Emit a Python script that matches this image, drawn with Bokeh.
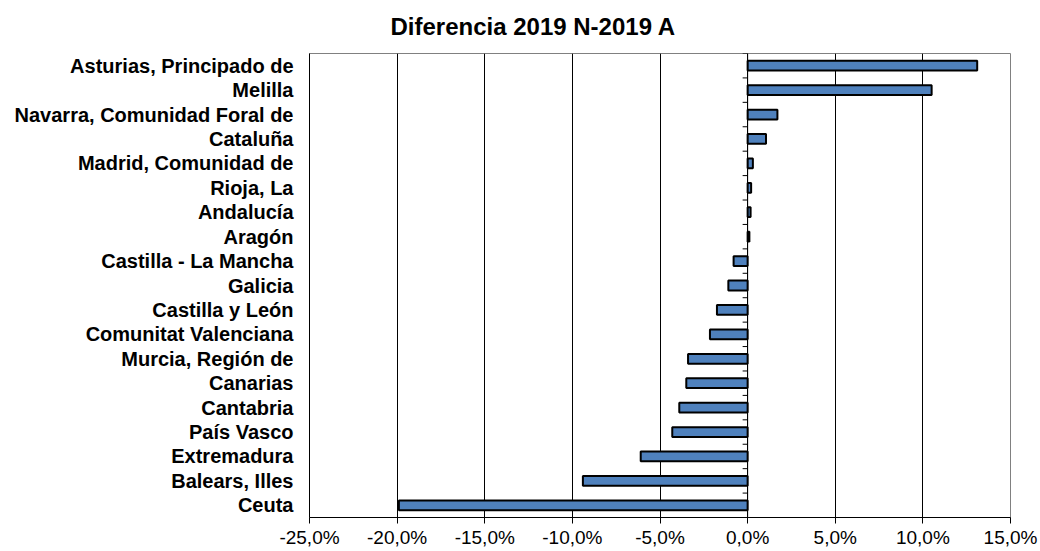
from bokeh.plotting import figure
from bokeh.models import FixedTicker, Range1d, Span, ColumnDataSource
from bokeh.embed import file_html
from bokeh.resources import INLINE

regions = [
    "Asturias, Principado de", "Melilla", "Navarra, Comunidad Foral de", "Cataluña",
    "Madrid, Comunidad de", "Rioja, La", "Andalucía", "Aragón", "Castilla - La Mancha",
    "Galicia", "Castilla y León", "Comunitat Valenciana", "Murcia, Región de",
    "Canarias", "Cantabria", "País Vasco", "Extremadura", "Balears, Illes", "Ceuta",
]
values = [13.1, 10.5, 1.7, 1.05, 0.3, 0.2, 0.17, 0.1, -0.8, -1.1, -1.75, -2.15,
          -3.4, -3.5, -3.9, -4.3, -6.1, -9.4, -19.9]
x_ticks = [-25, -20, -15, -10, -5, 0, 5, 10, 15]
x_tick_labels = ["-25,0%", "-20,0%", "-15,0%", "-10,0%", "-5,0%", "0,0%", "5,0%", "10,0%", "15,0%"]
title_text = "Diferencia 2019 N-2019 A"

n = len(regions)
ypos = [n - i - 0.5 for i in range(n)]

W, H = 1040, 551
ML, MR, MT, MB = 309, 30, 53, 34

p = figure(width=W, height=H, output_backend="svg", toolbar_location=None,
           x_range=Range1d(x_ticks[0], x_ticks[-1]), y_range=Range1d(0, n),
           min_border_left=ML, min_border_right=MR, min_border_top=MT, min_border_bottom=MB,
           title=title_text)
p.background_fill_color = "white"
p.border_fill_color = "white"
p.outline_line_color = "#808080"
p.outline_line_width = 1

p.title.text_font = "Liberation Sans"
p.title.text_font_size = "24px"
p.title.text_font_style = "bold"
p.title.text_color = "black"
p.title.align = "left"
p.title.vertical_align = "top"
p.title.offset = 81
p.title.standoff = 24

# x axis
p.xaxis.ticker = FixedTicker(ticks=x_ticks)
p.xaxis.major_label_overrides = {t: l for t, l in zip(x_ticks, x_tick_labels)}
p.xaxis.major_label_text_font = "Liberation Sans"
p.xaxis.major_label_text_font_size = "19px"
p.xaxis.major_label_text_color = "black"
p.xaxis.axis_line_color = "black"
p.xaxis.major_tick_line_color = "black"
p.xaxis.major_tick_out = 6
p.xaxis.major_tick_in = 0
p.xaxis.minor_tick_line_color = None
p.xaxis.major_label_standoff = 3

# y axis
p.yaxis.ticker = FixedTicker(ticks=ypos)
p.yaxis.major_label_overrides = {y: r for y, r in zip(ypos, regions)}
p.yaxis.major_label_text_font = "Liberation Sans"
p.yaxis.major_label_text_font_size = "20px"
p.yaxis.major_label_text_font_style = "bold"
p.yaxis.major_label_text_color = "black"
p.yaxis.axis_line_color = "black"
p.yaxis.major_tick_line_color = None
p.yaxis.minor_tick_line_color = None
p.yaxis.major_label_standoff = 10

p.xgrid.ticker = FixedTicker(ticks=x_ticks)
p.xgrid.grid_line_color = "black"
p.xgrid.grid_line_width = 1
p.ygrid.grid_line_color = None

src = ColumnDataSource(dict(y=ypos, v=values, z=[0] * n))
p.hbar(y="y", left="z", right="v", height=0.4, source=src,
       fill_color="#4F81BD", line_color="black", line_width=2)

# category axis at zero with ticks at category boundaries
p.add_layout(Span(location=0, dimension="height", line_color="black", line_width=1))
px_per_unit = (W - ML - MR) / (x_ticks[-1] - x_ticks[0])
tick_len = 5 / px_per_unit
bounds = list(range(n + 1))
p.segment(x0=[-tick_len] * len(bounds), x1=[0] * len(bounds), y0=bounds, y1=bounds,
          line_color="black", line_width=1)

open("out.html", "w").write(file_html(p, INLINE))
